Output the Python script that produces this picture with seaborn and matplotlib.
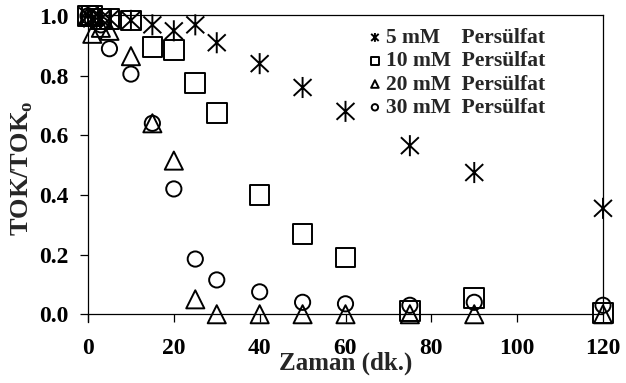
import numpy as np
import pandas as pd
import matplotlib
matplotlib.use("Agg")
import matplotlib.pyplot as plt
import seaborn as sns
from matplotlib.path import Path

# ---- data ----
t_5 = [0, 1, 3, 5, 10, 15, 20, 25, 30, 40, 50, 60, 75, 90, 120]
v_5 = [1.0, 0.99, 0.99, 0.99, 0.985, 0.97, 0.95, 0.97, 0.91, 0.84, 0.76, 0.68, 0.565, 0.475, 0.355]

t_10 = [0, 1, 3, 5, 10, 15, 20, 25, 30, 40, 50, 60, 75, 90, 120]
v_10 = [1.0, 1.0, 0.99, 0.99, 0.985, 0.895, 0.885, 0.775, 0.675, 0.40, 0.27, 0.19, 0.01, 0.055, 0.005]

t_20 = [0, 1, 3, 5, 10, 15, 20, 25, 30, 40, 50, 60, 75, 90, 120]
v_20 = [1.0, 0.94, 0.96, 0.95, 0.865, 0.64, 0.515, 0.05, 0.0, 0.0, 0.0, 0.0, 0.0, 0.0, 0.0]

t_30 = [0, 1, 3, 5, 10, 15, 20, 25, 30, 40, 50, 60, 75, 90, 120]
v_30 = [1.0, 0.99, 0.97, 0.89, 0.805, 0.64, 0.42, 0.185, 0.115, 0.075, 0.04, 0.035, 0.03, 0.04, 0.03]

labels = ["5 mM    Pers\u00fclfat", "10 mM  Pers\u00fclfat",
          "20 mM  Pers\u00fclfat", "30 mM  Pers\u00fclfat"]

xticks = [0, 20, 40, 60, 80, 100, 120]
yticks = [0.0, 0.2, 0.4, 0.6, 0.8, 1.0]

# ---- style ----
sns.set_theme(style="white")
plt.rcParams["font.family"] = ["Liberation Serif", "DejaVu Serif"]
plt.rcParams["font.weight"] = "bold"
plt.rcParams["mathtext.fontset"] = "custom"
plt.rcParams["mathtext.rm"] = "Liberation Serif:bold"

asterisk = Path([(0, -1), (0, 1), (-0.85, -0.8), (0.85, 0.8), (-0.85, 0.8), (0.85, -0.8)],
                [Path.MOVETO, Path.LINETO, Path.MOVETO, Path.LINETO, Path.MOVETO, Path.LINETO])

fig = plt.figure(figsize=(6.26, 3.83), dpi=100)
ax = fig.add_axes([88 / 626, 1 - 322 / 383, (603 - 88) / 626, (322 - 15) / 383])

series = [
    (t_5, v_5, asterisk, 230, labels[0]),
    (t_10, v_10, "s", 200, labels[1]),
    (t_20, v_20, "^", 170, labels[2]),
    (t_30, v_30, "o", 120, labels[3]),
]
for t, v, m, s, lab in series:
    df = pd.DataFrame({"t": t, "v": v})
    sns.scatterplot(data=df, x="t", y="v", marker=m, s=s, facecolor="none",
                    edgecolor="black", linewidth=1.4, color="black", ax=ax, label=lab,
                    zorder=3, clip_on=False)

ax.set_xlim(0, 120)
ax.set_ylim(-0.026, 1.003)
ax.set_xticks(xticks)
ax.set_yticks(yticks)
ax.set_xticklabels([str(x) for x in xticks])
ax.set_yticklabels([f"{y:.1f}" for y in yticks])

for sp in ax.spines.values():
    sp.set_color("black")
    sp.set_linewidth(0.9)
ax.spines["bottom"].set_position(("data", 0))
ax.spines["right"].set_bounds(0, 1.003)

ax.tick_params(axis="both", direction="out", length=6, width=0.9, colors="black",
               labelsize=17)
ax.tick_params(axis="x", pad=11)
ax.tick_params(axis="y", pad=8)
ax.tick_params(top=False, right=False, bottom=True, left=True)
for lab in ax.get_xticklabels() + ax.get_yticklabels():
    lab.set_fontweight("bold")

ax.set_xlabel("Zaman (dk.)", fontsize=18, fontweight="bold", labelpad=-5)
ax.set_ylabel("TOK/TOK$_\\mathrm{o}$", fontsize=19, fontweight="bold", labelpad=3)

leg = ax.legend(loc="upper left", bbox_to_anchor=(369 / 626, 1 - 28 / 383),
                bbox_transform=fig.transFigure, frameon=False, fontsize=15.5,
                markerscale=0.42, handlelength=0.55, handletextpad=0.25,
                labelspacing=0.15, borderpad=0, borderaxespad=0)
for txt in leg.get_texts():
    txt.set_fontweight("bold")

fig.savefig("out.png", dpi=100)
